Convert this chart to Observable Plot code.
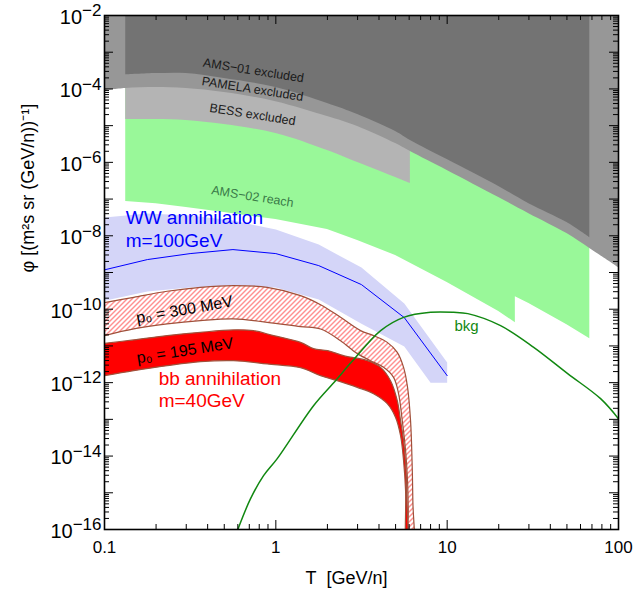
<!DOCTYPE html>
<html><head><meta charset="utf-8">
<script src="https://cdn.jsdelivr.net/npm/d3@7"></script>
<script src="https://cdn.jsdelivr.net/npm/@observablehq/plot@0.6"></script>
<style>body{margin:0;background:#fff;}</style>
</head><body><div id="chart"></div>
<script>
// ---------- data (T in GeV/n, phi in (m^2 s sr GeV/n)^-1) ----------
const grayT     = [0.1, 0.133, 0.2, 0.3, 0.5, 1, 2, 3, 5, 6.1, 10, 20, 30, 50, 68, 100];
const pamelaLow = [9.0e-5, 1.03e-4, 1.09e-4, 1.03e-4, 8.0e-5, 4.5e-5, 1.77e-5, 9.5e-6, 3.25e-6, 1.97e-6, 6.0e-7, 1.10e-7, 4.0e-8, 1.15e-8, 4.5e-9, 1.36e-9];
const ams01T    = [0.133, 0.2, 0.3, 0.5, 1, 2, 3, 5, 6.1, 10, 20, 30, 50, 68];
const ams01Low  = [2.42e-4, 2.63e-4, 2.63e-4, 1.92e-4, 1.09e-4, 4.0e-5, 2.0e-5, 6.9e-6, 3.93e-6, 1.19e-6, 2.19e-7, 7.5e-8, 2.29e-8, 8.9e-9];
const bessT     = [0.133, 0.2, 0.3, 0.5, 1, 2, 3, 5, 6.1];
const bessLow   = [1.47e-5, 1.47e-5, 1.38e-5, 1.07e-5, 6.1e-6, 2.1e-6, 9.9e-7, 3.85e-7, 2.64e-7];
const ams02T    = [0.133, 0.2, 0.3, 0.5, 1, 2, 3, 5, 10, 20, 25, 25, 30, 50, 68];
const ams02Low  = [8.55e-8, 7.5e-8, 5.9e-8, 4.3e-8, 2.76e-8, 1.48e-8, 7.4e-9, 2.89e-9, 5.3e-10, 8.6e-11, 4.3e-11, 2.2e-10, 1.42e-10, 3.8e-11, 1.58e-11];

const wwT       = [0.1, 0.178, 0.316, 0.562, 1, 1.78, 3.16, 5.62, 10];
const wwCentral = [1.18e-9, 2.25e-9, 3.27e-9, 4.21e-9, 3.27e-9, 1.54e-9, 4.68e-10, 5.9e-11, 1.55e-12];
const wwHigh    = [3.13e-8, 4.03e-8, 3.55e-8, 2.59e-8, 1.48e-8, 5.75e-9, 1.36e-9, 1.42e-10, 3.51e-12];
const wwLowT    = [0.1, 0.178, 0.316, 0.562, 1, 1.78, 3.16, 5.62, 8, 10];
const wwLow     = [1.71e-10, 3.02e-10, 3.88e-10, 4.40e-10, 3.88e-10, 1.83e-10, 4.05e-11, 9.6e-12, 1.0e-12, 1.0e-12];

const p300HighT = [0.1, 0.148, 0.232, 0.363, 0.566, 0.891, 1.394, 1.824, 2.387, 3.122, 3.718, 4.471, 5.114, 5.566, 5.872, 6.113, 6.238, 6.305, 6.339];
const p300High  = [1.51e-10, 2.11e-10, 3.08e-10, 3.95e-10, 4.40e-10, 3.95e-10, 2.35e-10, 1.33e-10, 6.01e-11, 2.61e-11, 1.91e-11, 1.25e-11, 6.70e-12, 2.61e-12, 7.45e-13, 9.23e-14, 7.5e-15, 6.1e-16, 1e-17];
const p300LowT  = [0.1, 0.148, 0.232, 0.363, 0.566, 0.891, 1.394, 1.824, 2.387, 2.987, 3.571, 4.254, 4.866, 5.204, 5.469, 5.72, 5.87, 5.93, 5.96];
const p300Low   = [1.91e-11, 2.90e-11, 3.97e-11, 4.89e-11, 5.44e-11, 4.40e-11, 3.36e-11, 2.90e-11, 1.39e-11, 6.17e-12, 3.97e-12, 2.61e-12, 1.39e-12, 5.01e-13, 9.23e-14, 1.40e-14, 2.14e-15, 3.25e-16, 1e-17];

const p195HighT = [0.1, 0.148, 0.232, 0.363, 0.566, 0.741, 0.970, 1.394, 1.660, 2.004, 2.485, 3.430, 4.086, 4.673, 5.114, 5.346, 5.566, 5.756, 5.833, 5.872];
const p195High  = [1.18e-11, 1.46e-11, 1.91e-11, 2.35e-11, 2.73e-11, 2.61e-11, 1.91e-11, 1.25e-11, 8.44e-12, 7.45e-12, 5.44e-12, 3.97e-12, 2.61e-12, 1.13e-12, 3.24e-13, 9.23e-14, 2.63e-14, 4.0e-15, 6.1e-16, 1e-17];
const p195LowT  = [0.1, 0.148, 0.232, 0.363, 0.566, 0.891, 1.394, 1.824, 2.283, 2.987, 3.718, 4.471, 4.999, 5.346, 5.566, 5.718, 5.779];
const p195Low   = [1.55e-12, 2.12e-12, 2.90e-12, 3.73e-12, 3.97e-12, 3.24e-12, 2.56e-12, 1.55e-12, 1.13e-12, 7.45e-13, 5.01e-13, 2.68e-13, 1.13e-13, 3.6e-14, 7.5e-15, 1.14e-15, 1e-17];

const bkgT = [0.60, 0.712, 0.848, 1.019, 1.66, 2.23, 2.79, 4.09, 5.57, 8.0, 10.9, 13.2, 20.5, 32, 50.5, 78.6, 100];
const bkg  = [1.0e-16, 6.9e-16, 2.92e-15, 8.5e-15, 2.36e-13, 1.13e-12, 3.8e-12, 2.61e-11, 6.01e-11, 8.24e-11, 8.24e-11, 7.59e-11, 3.57e-11, 9.16e-12, 1.76e-12, 3.66e-13, 1.04e-13];

const xTickLabels = [0.1, 1, 10, 100];
const yLabelExp   = [-2, -4, -6, -8, -10, -12, -14, -16];

// ---------- helpers ----------
const area = (T, lo) => T.map((t, i) => ({T: t, lo: lo[i], hi: 1e-2}));
const band = (hT, h, lT, l) => [
  ...hT.map((t, i) => ({T: t, v: h[i]})),
  ...lT.map((t, i) => ({T: t, v: l[i]})).reverse()
];
const pts = (T, v) => T.map((t, i) => ({T: t, v: v[i]}));

const W = 633, H = 591, mL = 104, mR = 15, mT = 15, mB = 62;
const iW = W - mL - mR, iH = H - mT - mB;

const yMajor = [], yMinor = [], xMajor = [], xMinor = [];
for (let e = -16; e <= -2; e++) yMajor.push(Math.pow(10, e));
for (let e = -16; e <= -3; e++) for (let k = 2; k <= 9; k++) yMinor.push(k * Math.pow(10, e));
for (let e = -1; e <= 2; e++) xMajor.push(Math.pow(10, e));
for (let e = -1; e <= 1; e++) for (let k = 2; k <= 9; k++) xMinor.push(k * Math.pow(10, e));

const majL = 9, minL = 5;
const brown = "#a0503a";

const chart = Plot.plot({
  width: W, height: H,
  marginLeft: mL, marginRight: mR, marginTop: mT, marginBottom: mB,
  style: {fontFamily: "'Liberation Sans', Arial, Helvetica, sans-serif", background: "#fff", color: "#000"},
  x: {type: "log", domain: [0.1, 100]},
  y: {type: "log", domain: [1e-16, 1e-2]},
  marks: [
    Plot.areaY(area(ams02T, ams02Low), {x: "T", y1: "lo", y2: "hi", fill: "#99f899", clip: true}),
    Plot.areaY(area(bessT, bessLow), {x: "T", y1: "lo", y2: "hi", fill: "#b4b4b4", curve: "catmull-rom", clip: true}),
    Plot.areaY(area(grayT, pamelaLow), {x: "T", y1: "lo", y2: "hi", fill: "#979797", curve: "catmull-rom", clip: true}),
    Plot.areaY(area(ams01T, ams01Low), {x: "T", y1: "lo", y2: "hi", fill: "#737373", curve: "catmull-rom", clip: true}),

    Plot.line(band(wwT, wwHigh, wwLowT, wwLow), {x: "T", y: "v", fill: "#d4d5f8", stroke: "none", clip: true}),
    Plot.line(pts(wwT, wwCentral), {x: "T", y: "v", stroke: "#0000ff", strokeWidth: 1, clip: true}),

    Plot.line(band(p300HighT, p300High, p300LowT, p300Low), {x: "T", y: "v", fill: "url(#hatch)", stroke: brown, strokeWidth: 1.2, curve: "catmull-rom", clip: true}),
    Plot.line(band(p195HighT, p195High, p195LowT, p195Low), {x: "T", y: "v", fill: "#ff0000", stroke: brown, strokeWidth: 1.2, curve: "catmull-rom", clip: true}),

    Plot.line(pts(bkgT, bkg), {x: "T", y: "v", stroke: "#118811", strokeWidth: 1.5, curve: "catmull-rom", clip: true}),

    // labels
    Plot.text(["AMS\u221201 excluded"], {x: () => 0.741, y: () => 3.17e-4, rotate: 9, fontSize: 12.5, fill: "#1a1a1a"}),
    Plot.text(["PAMELA excluded"], {x: () => 0.731, y: () => 9.9e-5, rotate: 9, fontSize: 12.5, fill: "#1a1a1a"}),
    Plot.text(["BESS excluded"], {x: () => 0.731, y: () => 2.0e-5, rotate: 9, fontSize: 12.5, fill: "#1a1a1a"}),
    Plot.text(["AMS\u221202 reach"], {x: () => 0.731, y: () => 1.17e-7, rotate: 9, fontSize: 12.5, fill: "#3a7a48"}),
    Plot.text(["WW annihilation"], {x: () => 0.133, y: () => 2.15e-8, textAnchor: "start", lineAnchor: "bottom", fontSize: 19, fill: "#0000ff"}),
    Plot.text(["m=100GeV"], {x: () => 0.133, y: () => 4.92e-9, textAnchor: "start", lineAnchor: "bottom", fontSize: 19, fill: "#0000ff"}),
    Plot.text(["p\u2080 = 300 MeV"], {x: () => 0.293, y: () => 9.75e-11, rotate: -10, fontSize: 16, fill: "#000"}),
    Plot.text(["p\u2080 = 195 MeV"], {x: () => 0.295, y: () => 7.45e-12, rotate: -9, fontSize: 16, fill: "#000"}),
    Plot.text(["bb annihilation"], {x: () => 0.207, y: () => 8.83e-13, textAnchor: "start", lineAnchor: "bottom", fontSize: 19, fill: "#ff0000"}),
    Plot.text(["m=40GeV"], {x: () => 0.207, y: () => 2.12e-13, textAnchor: "start", lineAnchor: "bottom", fontSize: 19, fill: "#ff0000"}),
    Plot.text(["bkg"], {x: () => 12.98, y: () => 3.36e-11, fontSize: 15, fill: "#118811"}),

    // ticks (inward, all four sides)
    Plot.ruleY(yMajor, {y: d => d, insetRight: iW - majL, stroke: "#000"}),
    Plot.ruleY(yMinor, {y: d => d, insetRight: iW - minL, stroke: "#000"}),
    Plot.ruleY(yMajor, {y: d => d, insetLeft: iW - majL, stroke: "#000"}),
    Plot.ruleY(yMinor, {y: d => d, insetLeft: iW - minL, stroke: "#000"}),
    Plot.ruleX(xMajor, {x: d => d, insetTop: iH - majL, stroke: "#000"}),
    Plot.ruleX(xMinor, {x: d => d, insetTop: iH - minL, stroke: "#000"}),
    Plot.ruleX(xMajor, {x: d => d, insetBottom: iH - majL, stroke: "#000"}),
    Plot.ruleX(xMinor, {x: d => d, insetBottom: iH - minL, stroke: "#000"}),
    Plot.frame({stroke: "#000", strokeWidth: 1.6}),

    // axes
    Plot.axisY(yLabelExp.map(e => Math.pow(10, e)), {tickSize: 0, tickPadding: 3, dy: 2, fontSize: 20, label: null,
      tickFormat: d => "10^" + Math.round(Math.log10(d))}),
    Plot.axisX(xTickLabels, {tickSize: 0, tickPadding: 11, fontSize: 17, label: null, tickFormat: d => String(d)}),

    Plot.text(["\u03c6 [(m\u00b2s sr (GeV/n))\u207b\u00b9]"], {frameAnchor: "left", dx: -71, rotate: -90, lineAnchor: "bottom", fontSize: 18}),
    Plot.text(["T\u00a0\u00a0[GeV/n]"], {frameAnchor: "bottom", dx: -15, dy: 54, lineAnchor: "bottom", fontSize: 18})
  ]
});

// hatch pattern
const ns = "http://www.w3.org/2000/svg";
const defs = document.createElementNS(ns, "defs");
defs.innerHTML = '<pattern id="hatch" patternUnits="userSpaceOnUse" width="5" height="5">' +
  '<rect width="5" height="5" fill="#fff"/>' +
  '<path d="M-1,1 L1,-1 M0,5 L5,0 M4,6 L6,4" stroke="#ff2020" stroke-width="1"/></pattern>';
chart.insertBefore(defs, chart.firstChild);

// superscripts in y tick labels; explicit font sizes for tick labels
d3.select(chart).selectAll('g[aria-label="y-axis tick label"] text').each(function() {
  const [base, exp] = this.textContent.split("^");
  const sel = d3.select(this).attr("font-size", 20);
  sel.text(null);
  sel.append("tspan").text(base);
  sel.append("tspan").attr("dy", "-0.45em").attr("font-size", "0.85em").text(exp.replace("-", "\u2212"));
});
d3.select(chart).selectAll('g[aria-label="x-axis tick label"] text').attr("font-size", 17);

document.getElementById("chart").appendChild(chart);
</script></body></html>
